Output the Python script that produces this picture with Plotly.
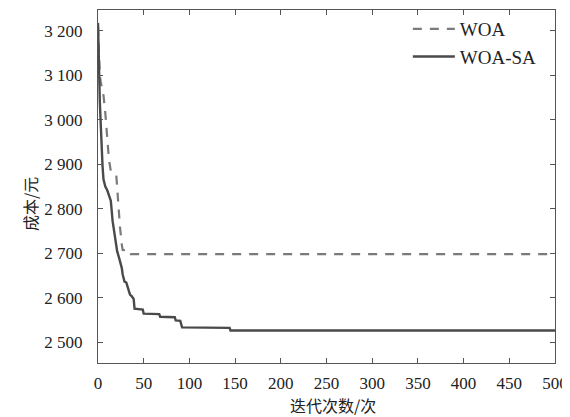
import plotly.graph_objects as go

woa_iter = [0, 1, 2, 3, 4, 5, 6, 8, 10, 12, 14, 15, 20, 21, 22, 24, 26, 27, 35, 36, 500]
woa_cost = [3210, 3150, 3100, 3085, 3075, 3065, 3055, 3015, 2955, 2910, 2885, 2881, 2876, 2840, 2810, 2760, 2720, 2707, 2706, 2698, 2698]

sa_iter = [0, 1, 2, 3, 4, 5, 6, 8, 10, 12, 14, 16, 18, 21, 23, 26, 27, 29, 31, 33, 35, 37, 39, 40, 49, 50, 67, 68, 84, 85, 90, 92, 144, 145, 500]
sa_cost = [3218, 3100, 3040, 2990, 2930, 2895, 2866, 2850, 2842, 2832, 2818, 2772, 2745, 2704, 2690, 2667, 2652, 2636, 2634, 2618, 2607, 2603, 2597, 2575, 2573, 2564, 2563, 2557, 2556, 2549, 2548, 2533, 2532, 2526, 2526]

x_ticks = [0, 50, 100, 150, 200, 250, 300, 350, 400, 450, 500]
y_ticks = [2500, 2600, 2700, 2800, 2900, 3000, 3100, 3200]
y_tick_text = ["2 500", "2 600", "2 700", "2 800", "2 900", "3 000", "3 100", "3 200"]

serif = "Liberation Serif, Times New Roman, serif"
cjk = "Noto Sans CJK SC"

fig = go.Figure()
fig.add_trace(go.Scatter(x=woa_iter, y=woa_cost, mode="lines", name="WOA",
                         line=dict(color="#7a7a7a", width=2.2, dash="9px,8px")))
fig.add_trace(go.Scatter(x=sa_iter, y=sa_cost, mode="lines", name="WOA-SA",
                         line=dict(color="#4a4a4a", width=2.4)))

axis_common = dict(showline=True, linecolor="#555555", linewidth=1, mirror="ticks",
                   ticks="inside", ticklen=5, tickcolor="#555555", showgrid=False,
                   zeroline=False, automargin=False,
                   tickfont=dict(family=serif, size=17, color="#222222"))

fig.update_xaxes(range=[0, 500], tickvals=x_ticks, ticklabelstandoff=5, **axis_common)
fig.update_yaxes(range=[2453, 3247], tickvals=y_ticks, ticktext=y_tick_text,
                 ticklabelstandoff=11, **axis_common)

fig.add_annotation(text="迭代次数/次", xref="paper", yref="paper", x=0.515, y=-0.12,
                   xanchor="center", yanchor="middle", showarrow=False,
                   font=dict(family=cjk, size=16, color="#222222"))
fig.add_annotation(text="成本/元", xref="paper", yref="paper", x=-0.149, y=0.45,
                   xanchor="center", yanchor="middle", showarrow=False, textangle=-90,
                   font=dict(family=cjk, size=16, color="#222222"))

fig.update_layout(
    width=570, height=417,
    margin=dict(l=90, r=23, t=2, b=62),
    paper_bgcolor="white", plot_bgcolor="white",
    font=dict(family=serif, size=16, color="#222222"),
    showlegend=True,
    legend=dict(x=0.678, y=1.0, xanchor="left", yanchor="top", bgcolor="rgba(0,0,0,0)",
                itemwidth=42,
                font=dict(family=serif, size=19, color="#222222"), tracegroupgap=0),
)

fig.write_html("out.html")
